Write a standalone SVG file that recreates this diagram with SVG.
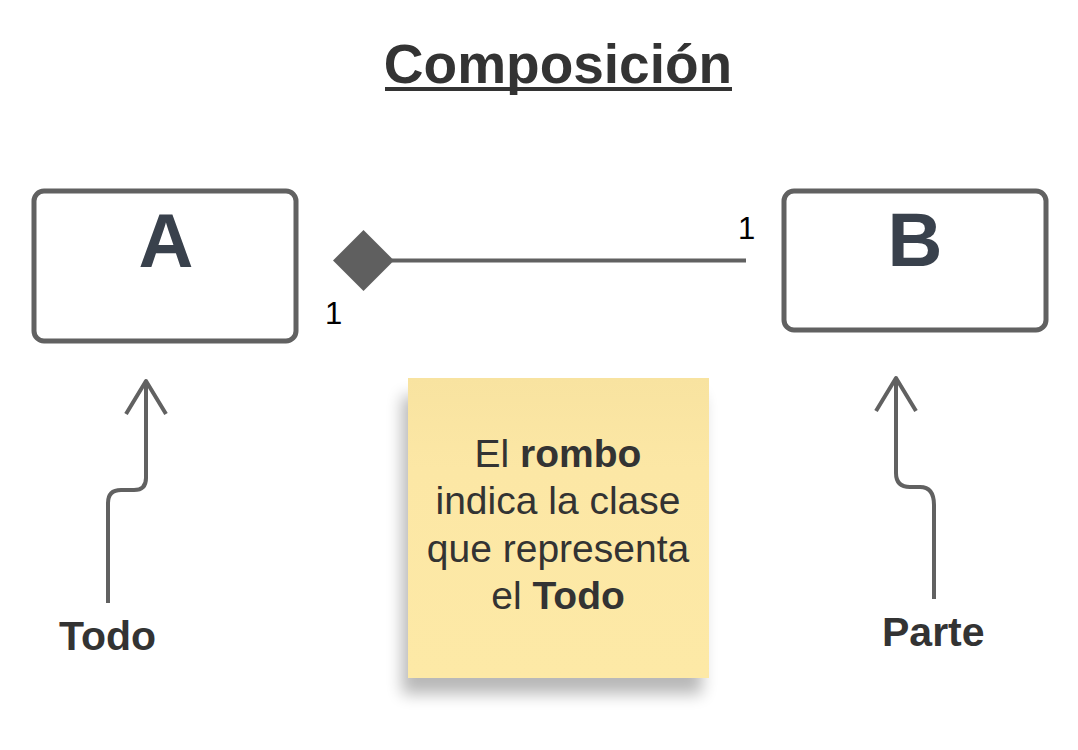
<svg xmlns="http://www.w3.org/2000/svg" width="1078" height="750" viewBox="0 0 1078 750">
<style>
.box{fill:#ffffff;stroke:#616161;stroke-width:5}
.cls{font-family:"Liberation Sans",Arial,sans-serif;font-weight:bold;font-size:76px;fill:#39414c;text-anchor:middle}
.conn{fill:none;stroke:#616161;stroke-width:4;stroke-linecap:butt;stroke-linejoin:round}
.mult{font-family:"Liberation Sans",Arial,sans-serif;font-size:31px;fill:#000}
.lbl{font-family:"Liberation Sans",Arial,sans-serif;font-weight:bold;font-size:41px;fill:#333}
.note{font-family:"Liberation Sans",Arial,sans-serif;font-size:39px;fill:#333;text-anchor:middle}
</style>
<defs>
<linearGradient id="ng" x1="0" y1="0" x2="0" y2="1">
<stop offset="0" stop-color="#f8e3a0"/>
<stop offset="0.3" stop-color="#fce7a5"/>
<stop offset="1" stop-color="#fde9a6"/>
</linearGradient>
<filter id="sh" x="-20%" y="-20%" width="140%" height="140%">
<feGaussianBlur stdDeviation="8"/>
</filter>
</defs>
<rect width="1078" height="750" fill="#ffffff"/>
<g id="title">
<text x="558" y="83" font-family="'Liberation Sans',Arial,sans-serif" font-weight="bold" font-size="55" fill="#333" text-anchor="middle">Composición</text>
<line x1="385" y1="89" x2="732" y2="89" stroke="#333" stroke-width="4"/>
</g>
<g id="connectors">
<line class="conn" x1="392" y1="260.5" x2="746" y2="260.5"/>
<polygon points="333,260.5 363.5,230 394,260.5 363.5,291" fill="#5f5f5f"/>
<path class="conn" d="M108,603 V503 Q108,490 121,490 H134 Q146,490 146,478 V382"/>
<polyline class="conn" points="126,414 146,381 166,414"/>
<path class="conn" d="M934,599 V505 Q934,487 920,487 H910 Q896,487 896,473 V379"/>
<polyline class="conn" points="876,411 896,378 916,411"/>
</g>
<g id="node-A">
<rect class="box" x="34" y="191" width="262" height="150" rx="10"/>
<text class="cls" x="166" y="267">A</text>
</g>
<g id="node-B">
<rect class="box" x="784" y="191" width="262" height="139" rx="10"/>
<text class="cls" x="915" y="266">B</text>
</g>
<g id="multiplicities">
<text class="mult" x="325" y="324">1</text>
<text class="mult" x="738" y="239">1</text>
</g>
<g id="labels">
<text class="lbl" x="59" y="650">Todo</text>
<text class="lbl" x="882" y="646">Parte</text>
</g>
<g id="note">
<rect x="402" y="396" width="300" height="298" fill="#000" opacity="0.28" filter="url(#sh)"/>
<rect x="408" y="378" width="301" height="300" fill="url(#ng)"/>
<text class="note" x="558" y="467">El <tspan font-weight="bold">rombo</tspan></text>
<text class="note" x="558" y="514">indica la clase</text>
<text class="note" x="558" y="562">que representa</text>
<text class="note" x="558" y="609">el <tspan font-weight="bold">Todo</tspan></text>
</g>
</svg>
